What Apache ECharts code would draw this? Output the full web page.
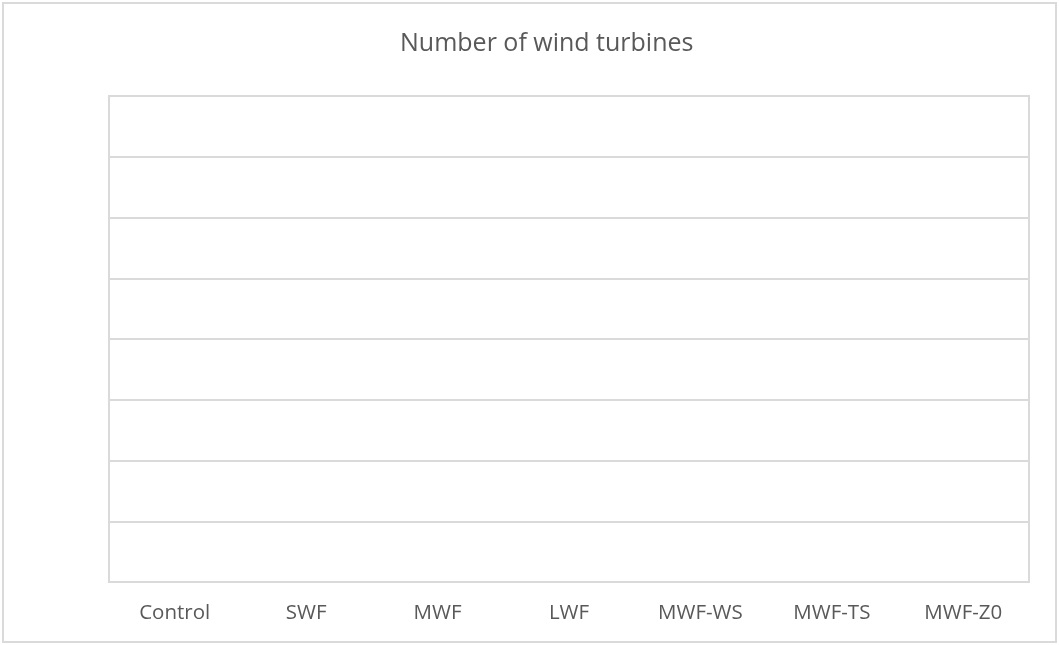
<!DOCTYPE html>
<html>
<head>
<meta charset="utf-8">
<title>Number of wind turbines</title>
<script src="https://cdn.jsdelivr.net/npm/echarts@6/dist/echarts.min.js"></script>
<style>
  html, body { margin: 0; padding: 0; background: #fff; }
  #chart { width: 1059px; height: 645px; }
</style>
</head>
<body>
<div id="chart"></div>
<script>
// the chart has no visible bars, every case is zero
const categories = ['Control', 'SWF', 'MWF', 'LWF', 'MWF-WS', 'MWF-TS', 'MWF-Z0']
const turbines = [0, 0, 0, 0, 0, 0, 0]
const yMin = 0
const yMax = 8
const yStep = 1

const lineGray = '#dadada'
const textGray = '#595959'

const chart = echarts.init(document.getElementById('chart'))

chart.setOption({
  animation: false,
  textStyle: { fontFamily: 'Open Sans' },
  title: {
    text: 'Number of wind turbines',
    left: 395,
    top: 26,
    textStyle: {
      fontFamily: 'Open Sans',
      fontSize: 25,
      fontWeight: 'normal',
      color: textGray
    }
  },
  graphic: [
    {
      type: 'rect',
      shape: { x: 3, y: 3, width: 1053, height: 639 },
      style: { fill: 'none', stroke: lineGray, lineWidth: 2 },
      silent: true
    }
  ],
  grid: {
    left: 109,
    right: 30,
    top: 96,
    bottom: 63,
    show: true,
    borderColor: lineGray,
    borderWidth: 2
  },
  xAxis: {
    type: 'category',
    data: categories,
    axisLine: { lineStyle: { color: lineGray, width: 2 } },
    axisTick: { show: false },
    axisLabel: {
      color: textGray,
      fontSize: 20.5,
      margin: 21
    }
  },
  yAxis: {
    type: 'value',
    min: yMin,
    max: yMax,
    interval: yStep,
    axisLine: { show: false },
    axisTick: { show: false },
    axisLabel: { show: false },
    splitLine: { lineStyle: { color: lineGray, width: 2 } }
  },
  series: [
    {
      name: 'Number of wind turbines',
      type: 'bar',
      data: turbines,
      itemStyle: { color: '#4472c4' }
    }
  ]
})
</script>
</body>
</html>
